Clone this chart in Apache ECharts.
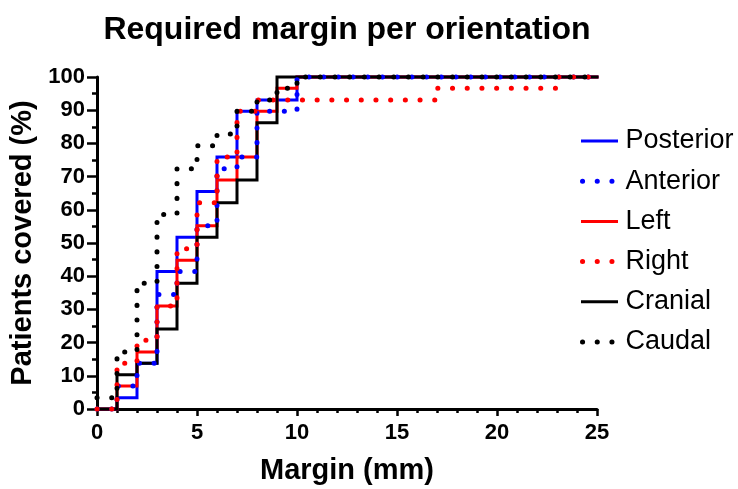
<!DOCTYPE html>
<html>
<head>
<meta charset="utf-8">
<script src="https://cdn.jsdelivr.net/npm/echarts@6/dist/echarts.min.js"></script>
<style>
html,body{margin:0;padding:0;background:#fff;}
#c{width:738px;height:489px;}
</style>
</head>
<body>
<div id="c"></div>
<script>
// Margin (mm) at each step
const margins = [0,1,2,3,4,5,6,7,8,9,10,11,12,13,14,15,16,17,18,19,20,21,22,23,24,25];
// Cumulative % of patients covered
const posterior = [0,3.4,13.8,41.4,51.7,65.5,75.9,89.7,93.1,93.1,100,100,100,100,100,100,100,100,100,100,100,100,100,100,100,100];
const anterior  = [0,6.9,13.8,34.5,41.4,55.2,72.4,75.9,89.7,89.7,100,100,100,100,100,100,100,100,100,100,100,100,100,100,100,100];
const left      = [0,6.9,17.2,31.0,44.8,55.2,69.0,75.9,89.7,96.6,100,100,100,100,100,100,100,100,100,100,100,100,100,100,100,100];
const right     = [0,13.8,20.7,31.0,48.3,62.1,75.9,89.7,93.1,93.1,93.1,93.1,93.1,93.1,93.1,93.1,93.1,96.6,96.6,96.6,96.6,96.6,96.6,100,100,100];
const cranial   = [0,10.3,13.8,24.1,37.9,51.7,62.1,69.0,86.2,100,100,100,100,100,100,100,100,100,100,100,100,100,100,100,100,100];
const caudal    = [3.4,17.2,37.9,58.6,72.4,79.3,82.8,89.7,93.1,96.6,100,100,100,100,100,100,100,100,100,100,100,100,100,100,100,100];

const seriesNames = ['Posterior','Anterior','Left','Right','Cranial','Caudal'];
const FONT = "'Liberation Sans', Arial, sans-serif";

const pair = vals => margins.map((m,i)=>[m, vals[i]]);
const DOT = [0.1, 14.6];

function mk(name, vals, color, dotted, z) {
  return {
    name: name, type: 'line', step: 'end', data: pair(vals),
    symbol: 'none', clip: false, z: z, animation: false,
    lineStyle: dotted ? {color: color, width: 5, type: DOT, cap: 'round'}
                      : {color: color, width: 3, type: 'solid', cap: 'square', join: 'miter'},
    itemStyle: {color: color}
  };
}

const chart = echarts.init(document.getElementById('c'), null, {renderer: 'canvas'});
chart.setOption({
  animation: false,
  backgroundColor: '#ffffff',
  title: {
    text: 'Required margin per orientation',
    left: 347, top: 14, textAlign: 'center', padding: 0,
    textStyle: {fontFamily: FONT, fontSize: 32, fontWeight: 'bold', color: '#000'}
  },
  legend: {
    orient: 'vertical', left: 580, top: 127, padding: 0,
    itemWidth: 34, itemHeight: 14, itemGap: 12.2,
    itemStyle: {opacity: 0},
    textStyle: {fontFamily: FONT, fontSize: 27, color: '#000', lineHeight: 28, padding: [0,0,0,4]},
    data: [
      {name: 'Posterior', lineStyle: {width: 3}},
      {name: 'Anterior', lineStyle: {width: 5}},
      {name: 'Left', lineStyle: {width: 3}},
      {name: 'Right', lineStyle: {width: 5}},
      {name: 'Cranial', lineStyle: {width: 3}},
      {name: 'Caudal', lineStyle: {width: 5}}
    ]
  },
  grid: {left: 97, right: 141, top: 77, bottom: 80, containLabel: false, outerBoundsMode: 'none'},
  xAxis: {
    type: 'value', min: 0, max: 25, interval: 5,
    name: 'Margin (mm)', nameLocation: 'middle', nameGap: 47,
    nameTextStyle: {fontFamily: FONT, fontSize: 29, fontWeight: 'bold', color: '#000'},
    axisLine: {show: true, onZero: false, lineStyle: {color: '#000', width: 3}},
    axisTick: {show: true, length: 7, lineStyle: {color: '#000', width: 2.5}},
    minorTick: {show: true, splitNumber: 5, length: 4, lineStyle: {color: '#000', width: 2.5}},
    axisLabel: {fontFamily: FONT, fontSize: 22, fontWeight: 'bold', color: '#000', margin: 13},
    splitLine: {show: false}, minorSplitLine: {show: false}
  },
  yAxis: {
    type: 'value', min: 0, max: 100, interval: 10,
    name: 'Patients covered (%)', nameLocation: 'middle', nameGap: 56,
    nameTextStyle: {fontFamily: FONT, fontSize: 29, fontWeight: 'bold', color: '#000'},
    axisLine: {show: true, onZero: false, lineStyle: {color: '#000', width: 3}},
    axisTick: {show: true, length: 10, lineStyle: {color: '#000', width: 2.5}},
    minorTick: {show: true, splitNumber: 2, length: 5, lineStyle: {color: '#000', width: 2.5}},
    axisLabel: {fontFamily: FONT, fontSize: 22, fontWeight: 'bold', color: '#000', margin: 12},
    splitLine: {show: false}, minorSplitLine: {show: false}
  },
  series: [
    mk(seriesNames[0], posterior, '#0000ff', false, 2),
    mk(seriesNames[2], left, '#ff0000', false, 3),
    mk(seriesNames[4], cranial, '#000000', false, 4),
    mk(seriesNames[1], anterior, '#0000ff', true, 5),
    mk(seriesNames[3], right, '#ff0000', true, 6),
    mk(seriesNames[5], caudal, '#000000', true, 7)
  ]
});
</script>
</body>
</html>
